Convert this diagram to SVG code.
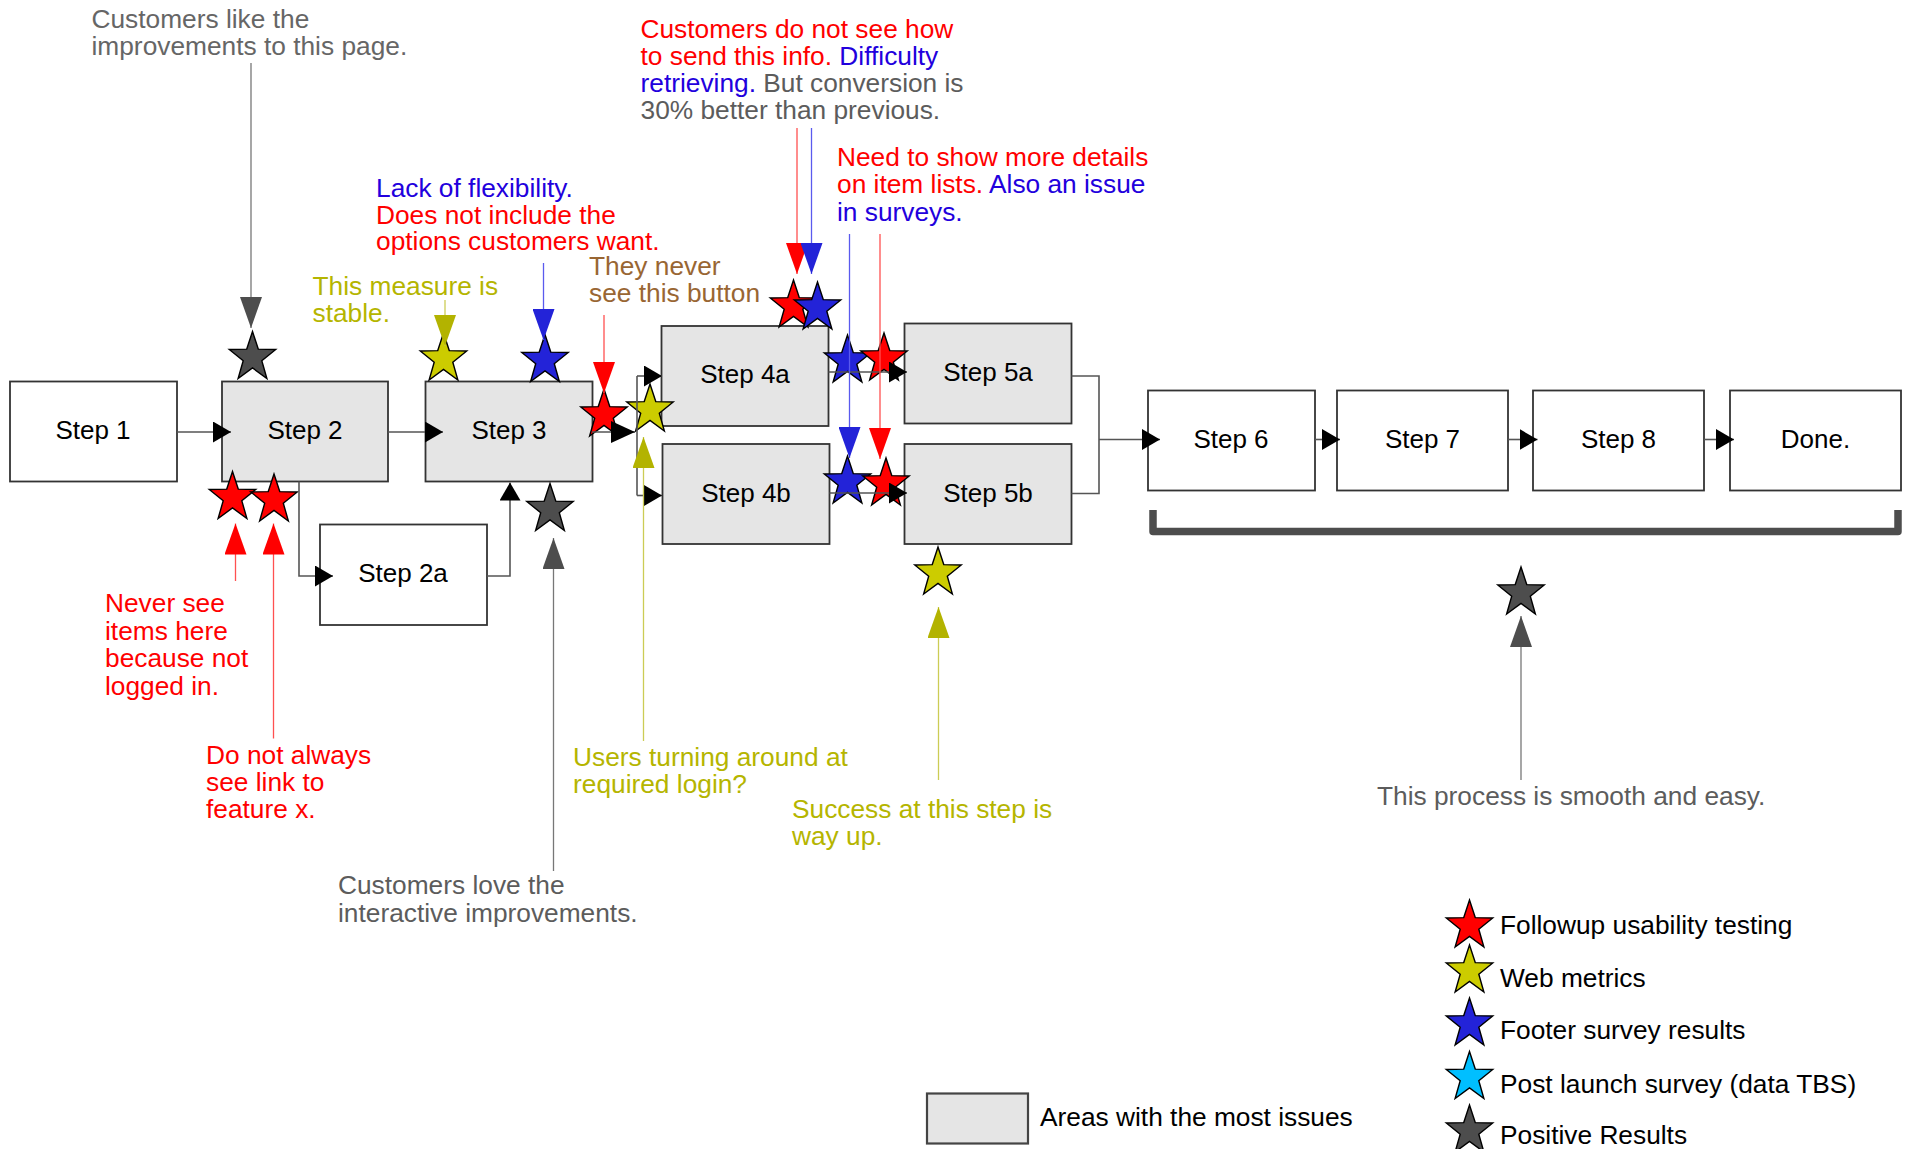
<svg xmlns="http://www.w3.org/2000/svg" width="1905" height="1149" viewBox="0 0 1905 1149">
<style>
text{font-family:"Liberation Sans",Arial,Helvetica,sans-serif;font-size:26.3px}
.lbl{text-anchor:middle;fill:#000;font-size:26px}
.box{stroke:#333;stroke-width:1.8}
.hot{fill:#e5e5e5}
.plain{fill:#fff}
.conn{stroke:#555;stroke-width:1.6;fill:none}
.star{stroke:#000;stroke-width:1.4;stroke-linejoin:miter}
.sR{fill:#ff0000}.sY{fill:#cccc00}.sB{fill:#2323d8}.sG{fill:#4d4d4d}.sC{fill:#00bfff}
.aR{stroke:#ff5050;stroke-width:1.3;fill:none}
.aB{stroke:#5a5aee;stroke-width:1.3;fill:none}
.aY{stroke:#cccc55;stroke-width:1.3;fill:none}
.aG{stroke:#777;stroke-width:1.3;fill:none}
.tR{fill:#ff0000}.tB{fill:#2200dd}.tY{fill:#b5b500}.tG{fill:#5c5c5c}.tN{fill:#996633}.tK{fill:#000}
</style>
<defs>
<path id="star" d="M0,-26 L5.75,-8.41 L23.24,-8.03 L9.3,3.21 L14.37,21.03 L0,10.4 L-14.37,21.03 L-9.3,3.21 L-23.24,-8.03 L-5.75,-8.41 Z"/>
<marker id="mK" viewBox="0 0 18 21" markerUnits="userSpaceOnUse" markerWidth="18" markerHeight="21" refX="18" refY="10.5" orient="auto"><path d="M0,0 L18,10.5 L0,21 Z" fill="#000"/></marker>
<marker id="mK2" viewBox="0 0 24 22" markerUnits="userSpaceOnUse" markerWidth="24" markerHeight="22" refX="24" refY="11" orient="auto"><path d="M0,0 L24,11 L0,22 Z" fill="#000"/></marker>
<marker id="mR" viewBox="0 0 31 22" markerUnits="userSpaceOnUse" markerWidth="31" markerHeight="22" refX="31" refY="11" orient="auto"><path d="M0,0 L31,11 L0,22 Z" fill="#ff0000"/></marker>
<marker id="mB" viewBox="0 0 31 22" markerUnits="userSpaceOnUse" markerWidth="31" markerHeight="22" refX="31" refY="11" orient="auto"><path d="M0,0 L31,11 L0,22 Z" fill="#2323d8"/></marker>
<marker id="mY" viewBox="0 0 31 22" markerUnits="userSpaceOnUse" markerWidth="31" markerHeight="22" refX="31" refY="11" orient="auto"><path d="M0,0 L31,11 L0,22 Z" fill="#b3b300"/></marker>
<marker id="mG" viewBox="0 0 31 22" markerUnits="userSpaceOnUse" markerWidth="31" markerHeight="22" refX="31" refY="11" orient="auto"><path d="M0,0 L31,11 L0,22 Z" fill="#4d4d4d"/></marker>
</defs>
<rect width="1905" height="1149" fill="#fff"/>

<g id="step1"><rect class="box plain" x="10" y="381.5" width="167" height="100"/><text class="lbl" x="93" y="439">Step 1</text></g>
<g id="step2"><rect class="box hot" x="222" y="381.5" width="166" height="100"/><text class="lbl" x="305" y="439">Step 2</text></g>
<g id="step2a"><rect class="box plain" x="320" y="524.5" width="167" height="100.5"/><text class="lbl" x="403" y="582">Step 2a</text></g>
<g id="step3"><rect class="box hot" x="425.5" y="381.5" width="167" height="100"/><text class="lbl" x="509" y="439">Step 3</text></g>
<g id="step4a"><rect class="box hot" x="661.5" y="326" width="167" height="100"/><text class="lbl" x="745" y="383">Step 4a</text></g>
<g id="step4b"><rect class="box hot" x="662.5" y="444" width="167" height="100"/><text class="lbl" x="746" y="502">Step 4b</text></g>
<g id="step5a"><rect class="box hot" x="904.5" y="323.5" width="167" height="100"/><text class="lbl" x="988" y="381">Step 5a</text></g>
<g id="step5b"><rect class="box hot" x="904.5" y="444" width="167" height="100"/><text class="lbl" x="988" y="502">Step 5b</text></g>
<g id="step6"><rect class="box plain" x="1148" y="390.5" width="167" height="100"/><text class="lbl" x="1231" y="448">Step 6</text></g>
<g id="step7"><rect class="box plain" x="1337" y="390.5" width="171" height="100"/><text class="lbl" x="1422.5" y="448">Step 7</text></g>
<g id="step8"><rect class="box plain" x="1533" y="390.5" width="171" height="100"/><text class="lbl" x="1618.5" y="448">Step 8</text></g>
<g id="done"><rect class="box plain" x="1730" y="390.5" width="171" height="100"/><text class="lbl" x="1815.5" y="448">Done.</text></g>

<g id="bracket"><path d="M1153,510 V531.5 H1898 V510" fill="none" stroke="#4d4d4d" stroke-width="7.5" stroke-linejoin="round"/></g>

<g id="stars">
<use href="#star" class="star sG" x="252.5" y="357.5"/>
<use href="#star" class="star sY" x="443.5" y="359"/>
<use href="#star" class="star sB" x="545" y="360.5"/>
<use href="#star" class="star sR" x="604" y="415"/>
<use href="#star" class="star sY" x="650" y="410"/>
<use href="#star" class="star sR" x="793.5" y="306"/>
<use href="#star" class="star sB" x="817.5" y="308"/>
<use href="#star" class="star sB" x="847.5" y="361"/>
<use href="#star" class="star sR" x="884" y="359"/>
<use href="#star" class="star sB" x="847.5" y="482"/>
<use href="#star" class="star sR" x="886" y="484"/>
<use href="#star" class="star sR" x="232.5" y="497.5"/>
<use href="#star" class="star sR" x="274" y="500"/>
<use href="#star" class="star sG" x="550" y="509.5"/>
<use href="#star" class="star sY" x="938" y="573"/>
<use href="#star" class="star sG" x="1521" y="593"/>
</g>

<g id="connectors">
<path class="conn" d="M177,432 H231" marker-end="url(#mK)"/>
<path class="conn" d="M388,432 H443" marker-end="url(#mK)"/>
<path class="conn" d="M592,432 H635" marker-end="url(#mK2)"/>
<path class="conn" d="M637,376 V495.5"/>
<path class="conn" d="M637,376 H662" marker-end="url(#mK)"/>
<path class="conn" d="M637,495.5 H662" marker-end="url(#mK)"/>
<path class="conn" d="M299,481.5 V576 H333" marker-end="url(#mK)"/>
<path class="conn" d="M487,576 H510 V482.5" marker-end="url(#mK)"/>
<path class="conn" d="M828.5,372 H907" marker-end="url(#mK)"/>
<path class="conn" d="M829.5,493 H907" marker-end="url(#mK)"/>
<path class="conn" d="M1071.5,376 H1099 V493.5 H1071.5"/>
<path class="conn" d="M1099,439.5 H1160" marker-end="url(#mK)"/>
<path class="conn" d="M1315,439.5 H1340" marker-end="url(#mK)"/>
<path class="conn" d="M1508,439.5 H1537.5" marker-end="url(#mK)"/>
<path class="conn" d="M1704,439.5 H1734" marker-end="url(#mK)"/>
</g>

<g id="annotation-arrows">
<path class="aG" d="M251,63 V328" marker-end="url(#mG)"/>
<path class="aY" d="M445,300 V346" marker-end="url(#mY)"/>
<path class="aB" d="M543.5,263 V340" marker-end="url(#mB)"/>
<path class="aR" d="M604,315 V393" marker-end="url(#mR)"/>
<path class="aR" d="M797,128 V274" marker-end="url(#mR)"/>
<path class="aB" d="M811.5,128 V274" marker-end="url(#mB)"/>
<path class="aB" d="M849.5,234 V458" marker-end="url(#mB)"/>
<path class="aR" d="M880,234 V459" marker-end="url(#mR)"/>
<path class="aR" d="M235.5,581 V523.5" marker-end="url(#mR)"/>
<path class="aR" d="M273.5,738.5 V523.5" marker-end="url(#mR)"/>
<path class="aG" d="M553.5,871 V538" marker-end="url(#mG)"/>
<path class="aY" d="M643.5,741 V437" marker-end="url(#mY)"/>
<path class="aY" d="M938.5,780 V607" marker-end="url(#mY)"/>
<path class="aG" d="M1521,780 V616" marker-end="url(#mG)"/>
</g>

<g id="annotations">
<text x="91.5" class="tG" style="fill:#666"><tspan x="91.5" y="28">Customers like the</tspan><tspan x="91.5" y="55">improvements to this page.</tspan></text>
<text x="640.5"><tspan x="640.5" y="38" class="tR">Customers do not see how</tspan><tspan x="640.5" y="65" class="tR">to send this info. </tspan><tspan class="tB">Difficulty</tspan><tspan x="640.5" y="92" class="tB">retrieving.</tspan><tspan class="tG"> But conversion is</tspan><tspan x="640.5" y="119" class="tG">30% better than previous.</tspan></text>
<text x="837"><tspan x="837" y="166" class="tR">Need to show more details</tspan><tspan x="837" y="193" class="tR">on item lists. </tspan><tspan class="tB">Also an issue</tspan><tspan x="837" y="220.5" class="tB">in surveys.</tspan></text>
<text x="376"><tspan x="376" y="196.5" class="tB">Lack of flexibility.</tspan><tspan x="376" y="223.5" class="tR">Does not include the</tspan><tspan x="376" y="250" class="tR">options customers want.</tspan></text>
<text class="tN"><tspan x="589" y="275">They never</tspan><tspan x="589" y="302">see this button</tspan></text>
<text class="tY"><tspan x="312.5" y="295">This measure is</tspan><tspan x="312.5" y="322">stable.</tspan></text>
<text class="tR"><tspan x="105" y="612">Never see</tspan><tspan x="105" y="639.5">items here</tspan><tspan x="105" y="667">because not</tspan><tspan x="105" y="694.5">logged in.</tspan></text>
<text class="tR"><tspan x="206" y="763.5">Do not always</tspan><tspan x="206" y="790.5">see link to</tspan><tspan x="206" y="817.5">feature x.</tspan></text>
<text class="tG"><tspan x="338" y="894">Customers love the</tspan><tspan x="338" y="921.5">interactive improvements.</tspan></text>
<text class="tY"><tspan x="573" y="765.5">Users turning around at</tspan><tspan x="573" y="792.5">required login?</tspan></text>
<text class="tY"><tspan x="792" y="818">Success at this step is</tspan><tspan x="792" y="845">way up.</tspan></text>
<text class="tG" x="1377" y="805">This process is smooth and easy.</text>
</g>

<g id="legend">
<g id="legend-hot"><rect class="hot" x="927" y="1093.5" width="101" height="50" stroke="#444" stroke-width="2.2"/><text class="tK" x="1040" y="1126">Areas with the most issues</text></g>
<g id="legend-red"><use href="#star" class="star sR" x="1469.5" y="926"/><text class="tK" x="1500" y="933.5">Followup usability testing</text></g>
<g id="legend-yellow"><use href="#star" class="star sY" x="1469.5" y="971"/><text class="tK" x="1500" y="987">Web metrics</text></g>
<g id="legend-blue"><use href="#star" class="star sB" x="1469.5" y="1024"/><text class="tK" x="1500" y="1038.5">Footer survey results</text></g>
<g id="legend-cyan"><use href="#star" class="star sC" x="1469.5" y="1077.5"/><text class="tK" x="1500" y="1092.5">Post launch survey (data TBS)</text></g>
<g id="legend-grey"><use href="#star" class="star sG" x="1469.5" y="1131"/><text class="tK" x="1500" y="1143.5">Positive Results</text></g>
</g>
</svg>
